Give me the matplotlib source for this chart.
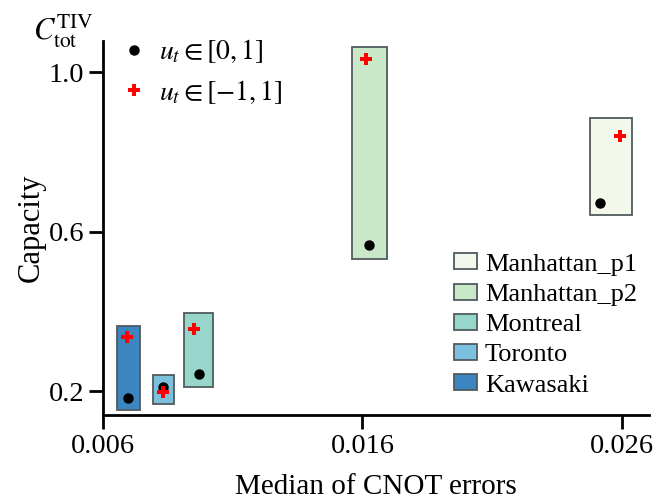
import numpy as np
import matplotlib.pyplot as plt

plt.rcParams['font.family'] = ['Liberation Serif', 'DejaVu Serif']
plt.rcParams['mathtext.fontset'] = 'stix'

# devices, cnot error ranges and capacity ranges
devices = ['Manhattan_p1', 'Manhattan_p2', 'Montreal', 'Toronto', 'Kawasaki']
colors = ['#f2f9ec', '#c8e8c8', '#98d6cc', '#7cc0de', '#3b86c0']
err_lo = [0.02477, 0.01558, 0.00912, 0.00794, 0.00655]
err_hi = [0.02639, 0.01693, 0.01023, 0.00874, 0.00743]
cap_lo = [0.641, 0.532, 0.2115, 0.168, 0.153]
cap_hi = [0.886, 1.064, 0.3956, 0.241, 0.364]

# capacity for the two input ranges
err_pos = [0.02517, 0.01626, 0.00970, 0.00832, 0.00696]
cap_pos = [0.673, 0.567, 0.2434, 0.2115, 0.1825]
err_sym = [0.02592, 0.01612, 0.00952, 0.00832, 0.00694]
cap_sym = [0.840, 1.0334, 0.3555, 0.199, 0.3354]

fig = plt.figure(figsize=(6.58, 4.99), dpi=100)
ax = fig.add_axes([0.1565, 0.1683, 0.8298, 0.7501])

bars = []
for i, name in enumerate(devices):
    b = ax.bar(err_lo[i], cap_hi[i] - cap_lo[i], width=err_hi[i] - err_lo[i],
               bottom=cap_lo[i], align='edge', color=colors[i],
               edgecolor='#505a5e', linewidth=1.3, label=name, zorder=1)
    bars.append(b)

dots, = ax.plot(err_pos, cap_pos, linestyle='', marker='o', color='black',
                markersize=6.5, zorder=3)
plus, = ax.plot(err_sym, cap_sym, linestyle='', marker='P', color='red',
                markersize=9, markeredgewidth=0, zorder=3)

ax.set_xlim(0.006, 0.02704)
ax.set_ylim(0.1406, 1.079)
ax.set_xticks([0.006, 0.016, 0.026])
ax.set_xticklabels(['0.006', '0.016', '0.026'])
ax.set_yticks([0.2, 0.6, 1.0])
ax.set_yticklabels(['0.2', '0.6', '1.0'])
ax.tick_params(labelsize=20.5, width=2, length=10)

for side in ['top', 'right']:
    ax.spines[side].set_visible(False)
for side in ['left', 'bottom']:
    ax.spines[side].set_linewidth(2)

ax.set_xlabel('Median of CNOT errors', fontsize=21, labelpad=11)
ax.set_ylabel('Capacity', fontsize=22, labelpad=2)
fig.text(0.05, 0.92, r'$C_{\mathrm{tot}}^{\mathrm{TIV}}$', fontsize=22)

leg1 = ax.legend([dots, plus], [r'$u_t \in [0, 1]$', r'$u_t \in [-1, 1]$'],
                 loc='upper left', bbox_to_anchor=(-0.03, 1.075), frameon=False,
                 fontsize=20, handletextpad=0.1, handlelength=1.6,
                 labelspacing=0.45)
ax.add_artist(leg1)

ax.legend(handles=[b[0] for b in bars], labels=devices, loc='lower right',
          bbox_to_anchor=(1.012, 0.0), frameon=False, fontsize=19,
          handlelength=0.87, handleheight=0.55, handletextpad=0.3,
          labelspacing=0.3, borderaxespad=0.3)

fig.savefig('out.png', dpi=100)
